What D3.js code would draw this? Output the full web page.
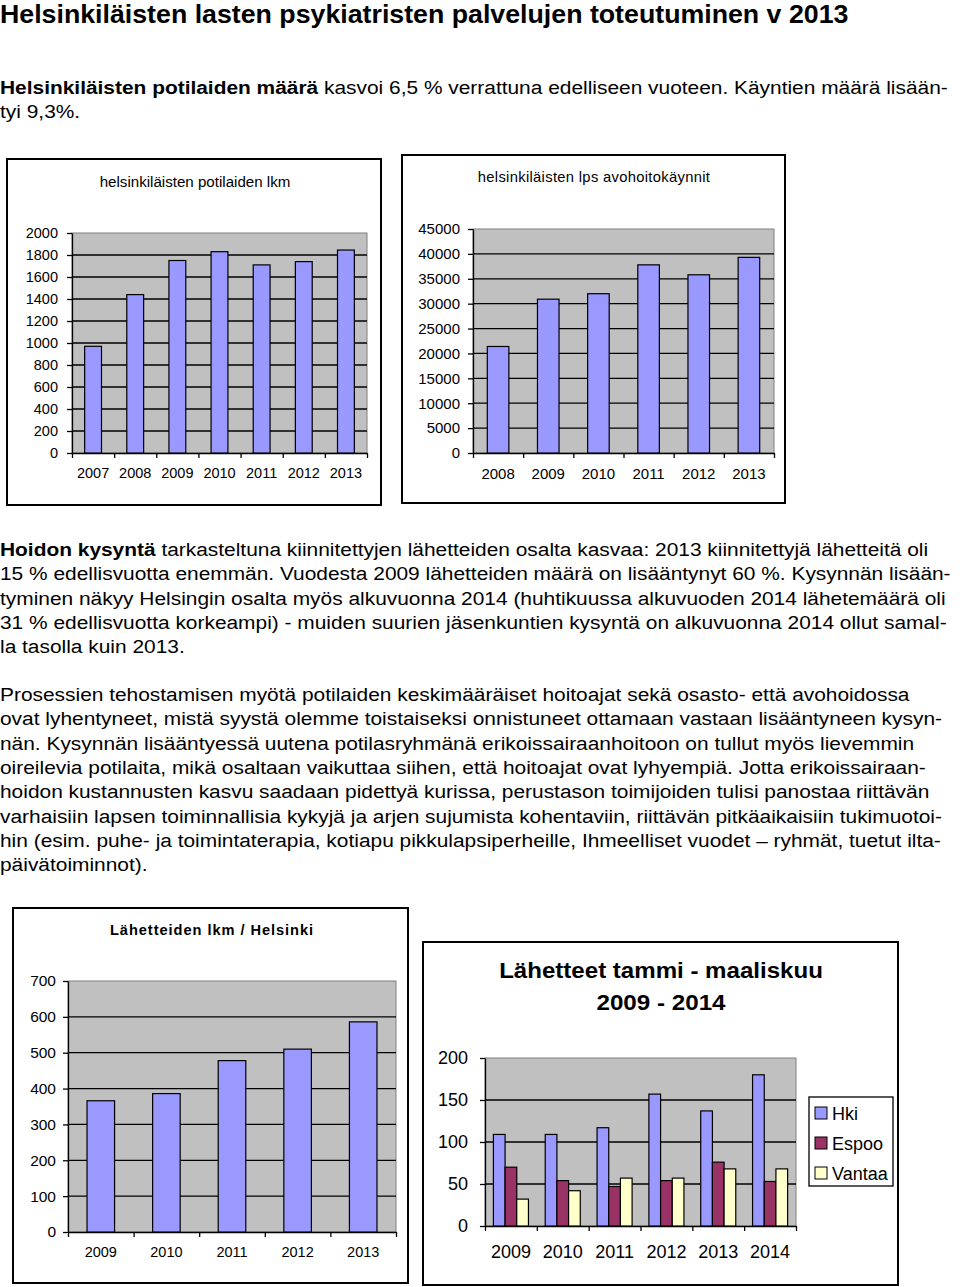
<!DOCTYPE html>
<html><head><meta charset="utf-8">
<script src="https://cdn.jsdelivr.net/npm/d3@7"></script>
<style>
html,body{margin:0;padding:0;background:#fff;}
svg{display:block;font-family:"Liberation Sans",Arial,sans-serif;}
</style></head>
<body><svg id="page" width="960" height="1287"></svg>
<script>
// ---------- DATA ----------
const potilaatYears = ["2007","2008","2009","2010","2011","2012","2013"];
const potilaatValues = [970, 1440, 1750, 1830, 1710, 1740, 1845];
const potilaatTicks = [0,200,400,600,800,1000,1200,1400,1600,1800,2000];

const kayntiYears = ["2008","2009","2010","2011","2012","2013"];
const kayntiValues = [21400, 30900, 32000, 37800, 35800, 39300];
const kayntiTicks = [0,5000,10000,15000,20000,25000,30000,35000,40000,45000];

const lahetteetYears = ["2009","2010","2011","2012","2013"];
const lahetteetValues = [366, 386, 478, 510, 586];
const lahetteetTicks = [0,100,200,300,400,500,600,700];

const qYears = ["2009","2010","2011","2012","2013","2014"];
const seriesNames = ["Hki","Espoo","Vantaa"];
const hkiValues = [109, 109, 117, 157, 137, 180];
const espooValues = [70, 54, 47, 54, 76, 53];
const vantaaValues = [32, 42, 57, 57, 68, 68];
const qTicks = [0,50,100,150,200];

// ---------- TEXT ----------
const pageTitle = "Helsinkiläisten lasten psykiatristen palvelujen toteutuminen v 2013";
const para1 = [
  [["Helsinkiläisten potilaiden määrä", true], [" kasvoi 6,5 % verrattuna edelliseen vuoteen. Käyntien määrä lisään-", false]],
  [["tyi 9,3%.", false]]
];
const para2 = [
  [["Hoidon kysyntä", true], [" tarkasteltuna kiinnitettyjen lähetteiden osalta kasvaa: 2013 kiinnitettyjä lähetteitä oli", false]],
  [["15 % edellisvuotta enemmän. Vuodesta 2009 lähetteiden määrä on lisääntynyt 60 %. Kysynnän lisään-", false]],
  [["tyminen näkyy Helsingin osalta myös alkuvuonna 2014 (huhtikuussa alkuvuoden 2014 lähetemäärä oli", false]],
  [["31 % edellisvuotta korkeampi) - muiden suurien jäsenkuntien kysyntä on alkuvuonna 2014 ollut samal-", false]],
  [["la tasolla kuin 2013.", false]]
];
const para3 = [
  "Prosessien tehostamisen myötä potilaiden keskimääräiset hoitoajat sekä osasto- että avohoidossa",
  "ovat lyhentyneet, mistä syystä olemme toistaiseksi onnistuneet ottamaan vastaan lisääntyneen kysyn-",
  "nän. Kysynnän lisääntyessä uutena potilasryhmänä erikoissairaanhoitoon on tullut myös lievemmin",
  "oireilevia potilaita, mikä osaltaan vaikuttaa siihen, että hoitoajat ovat lyhyempiä. Jotta erikoissairaan-",
  "hoidon kustannusten kasvu saadaan pidettyä kurissa, perustason toimijoiden tulisi panostaa riittävän",
  "varhaisiin lapsen toiminnallisia kykyjä ja arjen sujumista kohentaviin, riittävän pitkäaikaisiin tukimuotoi-",
  "hin (esim. puhe- ja toimintaterapia, kotiapu pikkulapsiperheille, Ihmeelliset vuodet – ryhmät, tuetut ilta-",
  "päivätoiminnot)."
];

const svg = d3.select("#page");
const BAR = "#9999FF", PLOT = "#C0C0C0";
const seriesColors = ["#9999FF", "#993366", "#FFFFCC"];
const TEXT_STRETCH = 1.1;

// page title
svg.append("text").attr("transform", "translate(0,23) scale(1.07,1)").attr("x", 0).attr("y", 0)
  .attr("font-size", 25).attr("font-weight", "bold").text(pageTitle);

function drawPara(lines, y0, lh) {
  lines.forEach((line, i) => {
    const t = svg.append("text")
      .attr("transform", `translate(0,${y0 + i * lh}) scale(${TEXT_STRETCH},1)`)
      .attr("x", 0).attr("y", 0).attr("font-size", 19);
    const parts = Array.isArray(line) ? line : [[line, false]];
    parts.forEach(([s, b]) => {
      t.append("tspan").attr("font-weight", b ? "bold" : "normal").text(s);
    });
  });
}
drawPara(para1, 94, 24.3);
drawPara(para2, 556, 24.3);
drawPara(para3, 701, 24.3);

function centeredTitle(cx, y, s, size, bold, ls, sx) {
  svg.append("text").attr("transform", `translate(${cx},${y}) scale(${sx},1)`)
    .attr("text-anchor", "middle").attr("font-size", size)
    .attr("font-weight", bold ? "bold" : "normal").attr("letter-spacing", ls).text(s);
}

// ---------- chart helper ----------
function chartFrame(box) {
  svg.append("rect").attr("x", box[0]).attr("y", box[1])
    .attr("width", box[2] - box[0]).attr("height", box[3] - box[1])
    .attr("fill", "#fff").attr("stroke", "#000").attr("stroke-width", 2);
}

function drawPlot(cfg) {
  const {left, right, top, bottom, ticks, cats, yFont, xFont, yPad, xLabelY} = cfg;
  const y = d3.scaleLinear().domain([0, ticks[ticks.length - 1]]).range([bottom, top]);
  svg.append("rect").attr("x", left).attr("y", top).attr("width", right - left)
    .attr("height", bottom - top).attr("fill", PLOT).attr("stroke", "#808080").attr("stroke-width", 1);
  svg.append("g").selectAll("line").data(ticks.slice(1, -1)).join("line")
    .attr("x1", left).attr("x2", right)
    .attr("y1", d => y(d)).attr("y2", d => y(d))
    .attr("stroke", "#000").attr("stroke-width", 1.3);
  const ya = svg.append("g").attr("transform", `translate(${left},0)`)
    .call(d3.axisLeft(y).tickValues(ticks).tickSize(5).tickPadding(yPad).tickSizeOuter(0).tickFormat(d3.format("d")));
  ya.selectAll("text").attr("font-size", yFont).attr("font-family", "Liberation Sans, Arial, sans-serif").attr("fill", "#000");
  ya.select(".domain").attr("stroke", "#000").attr("stroke-width", 1.3);
  ya.selectAll(".tick line").attr("stroke", "#000").attr("stroke-width", 1.3);
  const xi = d3.scaleLinear().domain([0, cats.length]).range([left, right]);
  const xa = svg.append("g").attr("transform", `translate(0,${bottom})`)
    .call(d3.axisBottom(xi).tickValues(d3.range(cats.length + 1)).tickSize(5).tickSizeOuter(0).tickFormat(""));
  xa.select(".domain").attr("stroke", "#000").attr("stroke-width", 1.3);
  xa.selectAll(".tick line").attr("stroke", "#000").attr("stroke-width", 1.3);
  const xb = d3.scaleBand().domain(cats).range([left, right]);
  const xl = svg.append("g").attr("transform", `translate(0,${bottom})`)
    .call(d3.axisBottom(xb).tickSize(0).tickPadding(xLabelY));
  xl.select(".domain").remove();
  xl.selectAll("text").attr("font-size", xFont).attr("font-family", "Liberation Sans, Arial, sans-serif").attr("fill", "#000");
  return y;
}

function simpleBars(cats, vals, y, left, right, ratio) {
  const p = 1 - ratio;
  const x = d3.scaleBand().domain(cats).range([left, right]).paddingInner(p).paddingOuter(p / 2);
  svg.append("g").selectAll("rect").data(cats.map((c, i) => ({c, v: vals[i]}))).join("rect")
    .attr("x", d => x(d.c)).attr("width", x.bandwidth())
    .attr("y", d => y(d.v)).attr("height", d => y(0) - y(d.v))
    .attr("fill", BAR).attr("stroke", "#000").attr("stroke-width", 1.2);
}

// ---------- Chart 1 ----------
chartFrame([7, 159, 381, 505]);
centeredTitle(195, 187, "helsinkiläisten potilaiden lkm", 14, false, 0, 1.08);
{
  const c = {left: 72, right: 367, top: 233, bottom: 453, ticks: potilaatTicks, cats: potilaatYears,
    yFont: 14.5, xFont: 14.5, yPad: 9, xLabelY: 15};
  const y = drawPlot(c);
  simpleBars(potilaatYears, potilaatValues, y, c.left, c.right, 0.4);
}

// ---------- Chart 2 ----------
chartFrame([402, 155, 785, 503]);
centeredTitle(594, 182, "helsinkiläisten lps avohoitokäynnit", 14, false, 0.3, 1.055);
{
  const c = {left: 473, right: 774, top: 229, bottom: 453, ticks: kayntiTicks, cats: kayntiYears,
    yFont: 15, xFont: 15, yPad: 8, xLabelY: 15};
  const y = drawPlot(c);
  simpleBars(kayntiYears, kayntiValues, y, c.left, c.right, 0.43);
}

// ---------- Chart 3 ----------
chartFrame([13, 908, 408, 1283]);
centeredTitle(212, 935, "Lähetteiden lkm / Helsinki", 14, true, 0.9, 1.046);
{
  const c = {left: 68, right: 396, top: 981, bottom: 1232, ticks: lahetteetTicks, cats: lahetteetYears,
    yFont: 15.5, xFont: 14.5, yPad: 7, xLabelY: 15};
  const y = drawPlot(c);
  simpleBars(lahetteetYears, lahetteetValues, y, c.left, c.right, 0.42);
}

// ---------- Chart 4 ----------
chartFrame([423, 942, 898, 1285]);
centeredTitle(661, 978, "Lähetteet tammi - maaliskuu", 22, true, 0, 1.095);
centeredTitle(661, 1010, "2009 - 2014", 22, true, 0, 1.1);
{
  const c = {left: 485, right: 796, top: 1058, bottom: 1226, ticks: qTicks, cats: qYears,
    yFont: 18, xFont: 18, yPad: 12, xLabelY: 19};
  const y = drawPlot(c);
  const ratio = 0.676, p = 1 - ratio;
  const x0 = d3.scaleBand().domain(qYears).range([c.left, c.right]).paddingInner(p).paddingOuter(p / 2);
  const x1 = d3.scaleBand().domain(seriesNames).range([0, x0.bandwidth()]);
  const seriesVals = [hkiValues, espooValues, vantaaValues];
  const rows = [];
  qYears.forEach((yr, i) => seriesNames.forEach((s, j) => rows.push({yr, s, v: seriesVals[j][i], j})));
  svg.append("g").selectAll("rect").data(rows).join("rect")
    .attr("x", d => x0(d.yr) + x1(d.s)).attr("width", x1.bandwidth())
    .attr("y", d => y(d.v)).attr("height", d => y(0) - y(d.v))
    .attr("fill", d => seriesColors[d.j]).attr("stroke", "#000").attr("stroke-width", 1.2);
  const lg = svg.append("g");
  lg.append("rect").attr("x", 809).attr("y", 1097).attr("width", 84).attr("height", 89)
    .attr("fill", "#fff").attr("stroke", "#000").attr("stroke-width", 1.3);
  const ly = d3.scalePoint().domain(seriesNames).range([1113, 1173]);
  seriesNames.forEach((s, j) => {
    lg.append("rect").attr("x", 815).attr("y", ly(s) - 6).attr("width", 12).attr("height", 12)
      .attr("fill", seriesColors[j]).attr("stroke", "#000").attr("stroke-width", 1);
    lg.append("text").attr("x", 832).attr("y", ly(s) + 6.5).attr("font-size", 18).text(s);
  });
}
</script></body></html>
